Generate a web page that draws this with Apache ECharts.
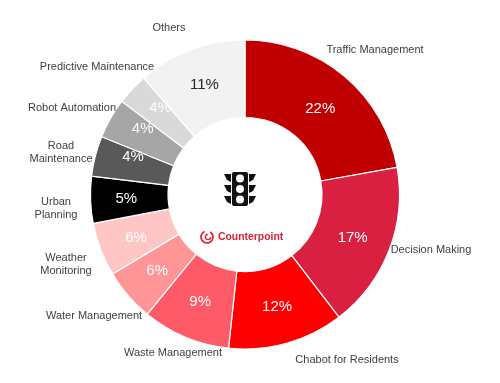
<!DOCTYPE html>
<html>
<head>
<meta charset="utf-8">
<style>
  html, body { margin: 0; padding: 0; background: #fff; }
  #main { width: 500px; height: 383px; filter: blur(0.4px); }
</style>
<script src="https://cdn.jsdelivr.net/npm/echarts@6/dist/echarts.min.js"></script>
</head>
<body>
<div id="main"></div>
<script>
const categories = ['Traffic Management', 'Decision Making', 'Chabot for Residents', 'Waste Management',
  'Water Management', 'Weather\nMonitoring', 'Urban\nPlanning', 'Road\nMaintenance',
  'Robot Automation', 'Predictive Maintenance', 'Others'];
// slice sizes, the printed labels are rounded
const shares = [22.2, 17.4, 12.1, 9.2, 5.5, 5.6, 4.9, 4.2, 4.2, 3.3, 11.4];
const printedShares = ['22%', '17%', '12%', '9%', '6%', '6%', '5%', '4%', '4%', '4%', '11%'];
const sliceColors = ['#c00000', '#d92040', '#ff0000', '#ff5a68', '#ff9596', '#ffc6c6',
  '#000000', '#595959', '#a6a6a6', '#d9d9d9', '#f2f2f2'];
const percentColors = ['#fff', '#fff', '#fff', '#fff', '#fff', '#fff', '#fff', '#fff', '#fff', '#fff', '#262626'];
// centre of each outer label, in px
const nameSpots = [[375, 50], [431, 250], [347, 360], [173, 353], [94, 316], [66, 264], [56, 208],
  [61, 152], [72, 108], [97, 67], [169, 28]];
// small shifts of the percent labels from the slice middle
const percentNudge = [[-1, 5], [-3, 0], [0, -2], [1, -2], [2, -1], [2, 1], [0, 0], [3, -8], [1, -7], [2, -6], [1, 2]];

const chart = echarts.init(document.getElementById('main'));
const center = [245, 194.5];
const radius = [77, 154.5];

chart.setOption({
  animation: false,
  backgroundColor: '#fff',
  series: [
    {
      type: 'pie', center, radius, startAngle: 90, silent: true,
      data: shares.map((v, i) => ({
        value: v, name: categories[i],
        itemStyle: { color: sliceColors[i] },
        label: { color: percentColors[i] }
      })),
      itemStyle: { borderColor: '#fff', borderWidth: 1.2 },
      label: {
        position: 'inside', formatter: p => printedShares[p.dataIndex],
        fontFamily: 'Liberation Sans', fontSize: 15
      },
      labelLine: { show: false },
      labelLayout: p => ({ dx: percentNudge[p.dataIndex][0], dy: percentNudge[p.dataIndex][1], hideOverlap: false })
    },
    {
      // same slices again, invisible, only to carry the category names
      type: 'pie', center, radius, startAngle: 90, silent: true,
      data: shares.map((v, i) => ({ value: v, name: categories[i] })),
      itemStyle: { color: 'transparent', borderWidth: 0 },
      label: {
        position: 'outside', formatter: '{b}', color: '#404040', overflow: 'none',
        fontFamily: 'Liberation Sans', fontSize: 11, lineHeight: 13, align: 'center'
      },
      labelLine: { show: false },
      labelLayout: p => ({
        x: nameSpots[p.dataIndex][0], y: nameSpots[p.dataIndex][1],
        align: 'center', verticalAlign: 'middle', hideOverlap: false
      })
    }
  ],
  graphic: [
    {
      // traffic light icon
      type: 'group', x: 240, y: 189, silent: true,
      children: [
        { type: 'rect', shape: { x: -8, y: -17, width: 16, height: 34, r: 2 }, style: { fill: '#111' } },
        { type: 'polygon', shape: { points: [[-16, -15], [-9, -15], [-9, -7], [-13, -9]] }, style: { fill: '#111' } },
        { type: 'polygon', shape: { points: [[-16, -4], [-9, -4], [-9, 4], [-13, 2]] }, style: { fill: '#111' } },
        { type: 'polygon', shape: { points: [[-16, 7], [-9, 7], [-9, 15], [-13, 13]] }, style: { fill: '#111' } },
        { type: 'polygon', shape: { points: [[16, -15], [9, -15], [9, -7], [13, -9]] }, style: { fill: '#111' } },
        { type: 'polygon', shape: { points: [[16, -4], [9, -4], [9, 4], [13, 2]] }, style: { fill: '#111' } },
        { type: 'polygon', shape: { points: [[16, 7], [9, 7], [9, 15], [13, 13]] }, style: { fill: '#111' } },
        { type: 'circle', shape: { cx: 0, cy: -10.5, r: 4 }, style: { fill: '#fff' } },
        { type: 'circle', shape: { cx: 0, cy: 0, r: 4 }, style: { fill: '#fff' } },
        { type: 'circle', shape: { cx: 0, cy: 10.5, r: 4 }, style: { fill: '#fff' } }
      ]
    },
    {
      // Counterpoint logo
      type: 'group', x: 207, y: 237, silent: true,
      children: [
        { type: 'arc', shape: { cx: 0, cy: 0, r: 6, startAngle: -1.0, endAngle: 4.3 }, style: { stroke: '#e0202f', lineWidth: 1.7, fill: 'none' } },
        { type: 'arc', shape: { cx: 1, cy: 0, r: 2.6, startAngle: 0, endAngle: 4.8 }, style: { stroke: '#e0202f', lineWidth: 1.4, fill: 'none' } },
        { type: 'text', x: 11, y: 0, style: { text: 'Counterpoint', fill: '#d9213a', font: 'bold 10.4px "Liberation Sans"', verticalAlign: 'middle' } }
      ]
    }
  ]
});
</script>
</body>
</html>
